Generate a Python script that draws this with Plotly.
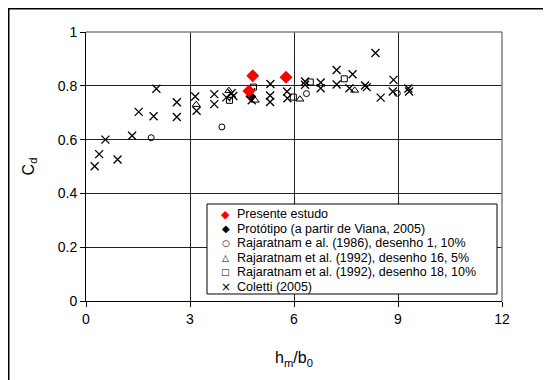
import plotly.graph_objects as go

# ---- data ----
presente_x = [4.81, 5.77, 4.70]
presente_y = [0.837, 0.832, 0.781]

prototipo_x = [4.75]
prototipo_y = [0.760]

raj1986_x = [1.88, 3.92, 6.36, 8.98]
raj1986_y = [0.607, 0.647, 0.771, 0.772]

raj1992_16_x = [3.18, 4.12, 4.88, 6.17, 7.75]
raj1992_16_y = [0.730, 0.782, 0.746, 0.750, 0.783]

raj1992_18_x = [4.14, 4.83, 5.98, 6.47, 7.45]
raj1992_18_y = [0.746, 0.795, 0.758, 0.814, 0.826]

coletti_x = [0.25, 0.38, 0.56, 0.91, 1.33, 1.52, 1.95, 2.03, 2.62, 2.62,
             3.15, 3.19, 3.70, 3.70, 4.05, 4.20, 4.25, 4.76, 4.78,
             5.32, 5.31, 5.31, 5.80, 5.81, 6.32, 6.32, 6.77, 6.77,
             7.23, 7.23, 7.60, 7.69, 8.05, 8.10, 8.35, 8.50, 8.87, 8.85,
             9.30, 9.32]
coletti_y = [0.501, 0.546, 0.600, 0.526, 0.614, 0.703, 0.687, 0.789, 0.739, 0.684,
             0.760, 0.707, 0.769, 0.732, 0.757, 0.772, 0.762, 0.776, 0.746,
             0.807, 0.764, 0.740, 0.779, 0.754, 0.816, 0.804, 0.812, 0.791,
             0.859, 0.805, 0.791, 0.843, 0.801, 0.795, 0.922, 0.756, 0.822, 0.779,
             0.790, 0.779]

legend_names = [
    "Presente estudo",
    "Protótipo (a partir de Viana, 2005)",
    "Rajaratnam e al. (1986), desenho 1, 10%",
    "Rajaratnam et al. (1992), desenho 16, 5%",
    "Rajaratnam et al. (1992), desenho 18, 10%",
    "Coletti (2005)",
]
legend_glyphs = ["◆", "◆", "○", "△", "□", "×"]
legend_glyph_colors = ["#ff0000", "#000000", "#000000", "#000000", "#000000", "#000000"]
legend_glyph_sizes = [11, 10, 9, 9, 9, 12]

x_ticks = [0, 3, 6, 9, 12]
y_ticks = [0, 0.2, 0.4, 0.6, 0.8, 1]
y_tick_labels = ["0", "0.2", "0.4", "0.6", "0.8", "1"]

FONT = "Arial, 'Liberation Sans', 'DejaVu Sans', sans-serif"

fig = go.Figure()

fig.add_trace(go.Scatter(
    x=coletti_x, y=coletti_y, mode="markers", name=legend_names[5],
    marker=dict(symbol="x-thin-open", size=8, color="black",
                line=dict(color="black", width=1.3))))
fig.add_trace(go.Scatter(
    x=raj1986_x, y=raj1986_y, mode="markers", name=legend_names[2],
    marker=dict(symbol="circle-open", size=6, color="black",
                line=dict(color="black", width=1))))
fig.add_trace(go.Scatter(
    x=raj1992_16_x, y=raj1992_16_y, mode="markers", name=legend_names[3],
    marker=dict(symbol="triangle-up-open", size=7, color="black",
                line=dict(color="black", width=1))))
fig.add_trace(go.Scatter(
    x=raj1992_18_x, y=raj1992_18_y, mode="markers", name=legend_names[4],
    marker=dict(symbol="square-open", size=6, color="black",
                line=dict(color="black", width=1))))
fig.add_trace(go.Scatter(
    x=prototipo_x, y=prototipo_y, mode="markers", name=legend_names[1],
    marker=dict(symbol="diamond", size=8, color="black")))
fig.add_trace(go.Scatter(
    x=presente_x, y=presente_y, mode="markers", name=legend_names[0],
    marker=dict(symbol="diamond", size=10, color="#ff0000")))

fig.update_layout(
    width=551, height=380,
    margin=dict(l=78, r=57, t=24, b=87),
    paper_bgcolor="white", plot_bgcolor="white",
    font=dict(family=FONT, color="black", size=14),
    showlegend=False,
    xaxis=dict(
        range=[0, 12], tickvals=x_ticks, ticktext=[str(v) for v in x_ticks],
        showgrid=True, gridcolor="#202020", gridwidth=1,
        showline=True, linecolor="black", linewidth=1,
        ticks="outside", ticklen=5, tickcolor="black",
        zeroline=False, tickfont=dict(size=14),
        title=dict(text="h<sub>m</sub>/b<sub>0</sub>", font=dict(size=16), standoff=26),
    ),
    yaxis=dict(
        range=[0, 1], tickvals=y_ticks, ticktext=y_tick_labels,
        showgrid=True, gridcolor="#202020", gridwidth=1,
        showline=True, linecolor="black", linewidth=1,
        ticks="outside", ticklen=5, tickcolor="black",
        zeroline=False, tickfont=dict(size=14),
        title=dict(text="C<sub>d</sub>", font=dict(size=16), standoff=19),
    ),
)

# gray frame on top and right of plot area
fig.add_shape(type="line", xref="paper", yref="paper", x0=0, x1=1, y0=1, y1=1,
              line=dict(color="#808080", width=1.5))
fig.add_shape(type="line", xref="paper", yref="paper", x0=1, x1=1, y0=0, y1=1,
              line=dict(color="#808080", width=1.5))
# outer chart border (extends beyond the visible area on right/bottom)
fig.add_shape(type="rect", xref="paper", yref="paper",
              x0=-0.1857, x1=1.3, y0=-0.4, y1=1.086, layer="below",
              line=dict(color="black", width=1.5))

# legend box (boxed key inside the plot area)
fig.add_shape(type="rect", xref="paper", yref="paper",
              x0=0.2909, x1=0.988, y0=0.026, y1=0.3606,
              fillcolor="white", line=dict(color="black", width=1), layer="above")

row_top = 0.3234          # paper y of first key row
row_step = 14.5 / 269     # 14.5 px between rows
sym_x = 0.3365
txt_x = 0.3606
for i, name in enumerate(legend_names):
    yy = row_top - i * row_step
    fig.add_annotation(xref="paper", yref="paper", x=sym_x, y=yy,
                       text=legend_glyphs[i], showarrow=False, borderpad=0,
                       xanchor="center", yanchor="middle",
                       font=dict(family="'DejaVu Sans', sans-serif",
                                 size=legend_glyph_sizes[i],
                                 color=legend_glyph_colors[i]))
    fig.add_annotation(xref="paper", yref="paper", x=txt_x, y=yy,
                       text=name, showarrow=False, borderpad=0,
                       xanchor="left", yanchor="middle",
                       font=dict(family=FONT, size=12.5, color="black"))

fig.write_html("out.html")
